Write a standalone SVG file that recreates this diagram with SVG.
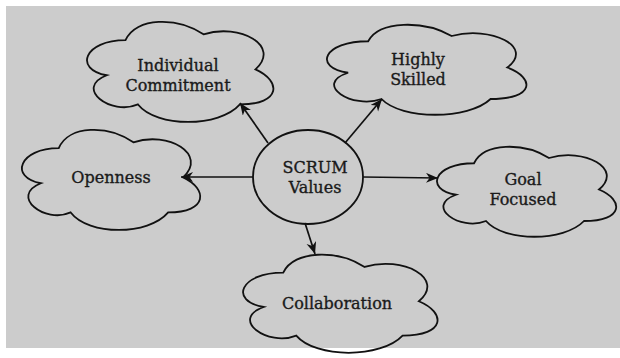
<svg xmlns="http://www.w3.org/2000/svg" width="620" height="358" viewBox="0 0 620 358">
  <style>
    .cloud { fill: none; stroke: #111; stroke-width: 1.8; vector-effect: non-scaling-stroke; }
    .hub { fill: none; stroke: #111; stroke-width: 1.8; }
    .edge { fill: none; stroke: #111; stroke-width: 1.7; marker-end: url(#arrow); }
    .lbl { font-family: "DejaVu Serif", "Liberation Serif", serif; font-size: 16px; fill: #1a1a1a; stroke: #1a1a1a; stroke-width: 0.35; text-anchor: middle; }
  </style>
  <defs>
    <marker id="arrow" markerUnits="userSpaceOnUse" markerWidth="14" markerHeight="12" refX="12" refY="5" orient="auto">
      <path d="M0,0 L12,5 L0,10 L3.5,5 Z" fill="#111"/>
    </marker>
  </defs>
  <rect x="6" y="6" width="614" height="342" fill="#cccccc"/>

  <g id="connectors">
    <line class="edge" x1="268" y1="143" x2="240" y2="103"/>
    <line class="edge" x1="345" y1="143" x2="382" y2="99"/>
    <line class="edge" x1="253" y1="177" x2="181" y2="177"/>
    <line class="edge" x1="363" y1="177" x2="438" y2="178"/>
    <line class="edge" x1="305" y1="223" x2="315" y2="254"/>
  </g>

  <g id="scrum-values">
    <ellipse class="hub" cx="308" cy="177" rx="55" ry="47"/>
    <text class="lbl" x="315" y="173">SCRUM</text>
    <text class="lbl" x="315" y="193">Values</text>
  </g>

  <g id="individual-commitment">
    <path class="cloud" transform="translate(73.5,11) scale(2.08,1.168)" d="M25,25 C5,25 0,50 16,55 C0,66 18,90 31,80 C40,100 70,100 80,80 C100,80 100,60 87.5,50 C100,30 80,10 62.5,20 C50,5 30,5 25,25 Z"/>
    <text class="lbl" x="178" y="71">Individual</text>
    <text class="lbl" x="178" y="91">Commitment</text>
  </g>

  <g id="highly-skilled">
    <path class="cloud" transform="translate(312.5,15) scale(2.226,1.05)" d="M25,25 C5,25 0,50 16,55 C0,66 18,90 31,80 C40,100 70,100 80,80 C100,80 100,60 87.5,50 C100,30 80,10 62.5,20 C50,5 30,5 25,25 Z"/>
    <text class="lbl" x="418" y="65">Highly</text>
    <text class="lbl" x="418" y="85">Skilled</text>
  </g>

  <g id="openness">
    <path class="cloud" transform="translate(9,119) scale(1.99,1.168)" d="M25,25 C5,25 0,50 16,55 C0,66 18,90 31,80 C40,100 70,100 80,80 C100,80 100,60 87.5,50 C100,30 80,10 62.5,20 C50,5 30,5 25,25 Z"/>
    <text class="lbl" x="111" y="183">Openness</text>
  </g>

  <g id="goal-focused">
    <path class="cloud" transform="translate(424,137) scale(2.0,1.05)" d="M25,25 C5,25 0,50 16,55 C0,66 18,90 31,80 C40,100 70,100 80,80 C100,80 100,60 87.5,50 C100,30 80,10 62.5,20 C50,5 30,5 25,25 Z"/>
    <text class="lbl" x="523" y="185">Goal</text>
    <text class="lbl" x="523" y="205">Focused</text>
  </g>

  <g id="collaboration">
    <path class="cloud" transform="translate(229,244) scale(2.17,1.145)" d="M25,25 C5,25 0,50 16,55 C0,66 18,90 31,80 C40,100 70,100 80,80 C100,80 100,60 87.5,50 C100,30 80,10 62.5,20 C50,5 30,5 25,25 Z"/>
    <text class="lbl" x="337" y="309">Collaboration</text>
  </g>
</svg>
